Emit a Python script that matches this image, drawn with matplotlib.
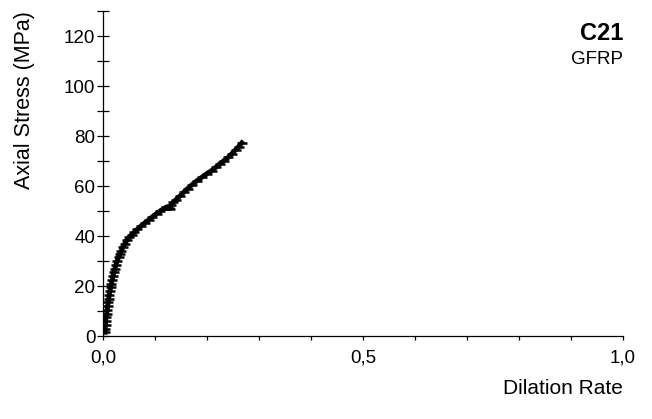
import matplotlib.pyplot as plt
from matplotlib.ticker import MultipleLocator, FuncFormatter

plt.rcParams['font.family'] = ['Liberation Sans', 'DejaVu Sans']

# データ (Dilation Rate, Axial Stress)
dilation = [0.004, 0.004, 0.005, 0.005, 0.006, 0.007, 0.008, 0.009, 0.010, 0.011,
            0.012, 0.013, 0.015, 0.016, 0.018, 0.019, 0.021, 0.023, 0.025, 0.027,
            0.030, 0.032, 0.035, 0.038, 0.042, 0.046, 0.050, 0.055, 0.060, 0.066,
            0.073, 0.080, 0.088, 0.095, 0.103, 0.110, 0.117, 0.122, 0.126, 0.128,
            0.131, 0.135, 0.140, 0.148, 0.155, 0.163, 0.171, 0.180, 0.190, 0.200,
            0.209, 0.217, 0.225, 0.233, 0.241, 0.248, 0.255, 0.261, 0.267]
stress = [1.5, 3, 4.5, 6, 7.5, 9, 10.5, 12, 13.5, 15,
          16.5, 18, 19.5, 21, 22.5, 24, 25.5, 27, 28.5, 30,
          31.5, 32.7, 34, 35.5, 37, 38.3, 39.5, 40.5, 41.5, 42.7,
          44, 45.2, 46.5, 47.7, 49, 50, 51, 51.6, 51.2, 51,
          52.5, 53.5, 54.5, 56, 57.5, 59, 60.5, 62, 63.5, 65,
          66.2, 67.5, 69, 70.2, 71.5, 73, 74.5, 75.8, 77.3]

fig = plt.figure(figsize=(6.52, 4.19), dpi=100)
ax = fig.add_axes([0.158, 0.198, 0.7975, 0.7757])

ax.plot(dilation, stress, color='black', lw=3.5, marker='_', ms=7, mew=1.8)

ax.set_xlim(0, 1.0)
ax.set_ylim(0, 130)
ax.spines['top'].set_visible(False)
ax.spines['right'].set_visible(False)
ax.spines['bottom'].set_linewidth(0.9)
ax.spines['left'].set_linewidth(0.9)

ax.xaxis.set_major_locator(MultipleLocator(0.5))
ax.xaxis.set_minor_locator(MultipleLocator(0.1))
ax.yaxis.set_major_locator(MultipleLocator(20))
ax.yaxis.set_minor_locator(MultipleLocator(10))
ax.xaxis.set_major_formatter(FuncFormatter(lambda v, p: f"{v:.1f}".replace('.', ',')))

ax.tick_params(axis='x', which='both', direction='out', length=3, width=0.9,
               labelsize=13.5, pad=7)
ax.tick_params(axis='y', which='both', direction='inout', length=9, width=0.9,
               labelsize=13.5, pad=1)

ax.set_ylabel('Axial Stress (MPa)', fontsize=15.5, loc='top', labelpad=21)
ax.set_xlabel('Dilation Rate', fontsize=15, loc='right', labelpad=9)

ax.text(1.0, 0.93, 'C21', transform=ax.transAxes, ha='right', va='center',
        fontsize=17, fontweight='bold')
ax.text(1.0, 0.85, 'GFRP', transform=ax.transAxes, ha='right', va='center',
        fontsize=13.5)

fig.savefig('out.png', dpi=100)
